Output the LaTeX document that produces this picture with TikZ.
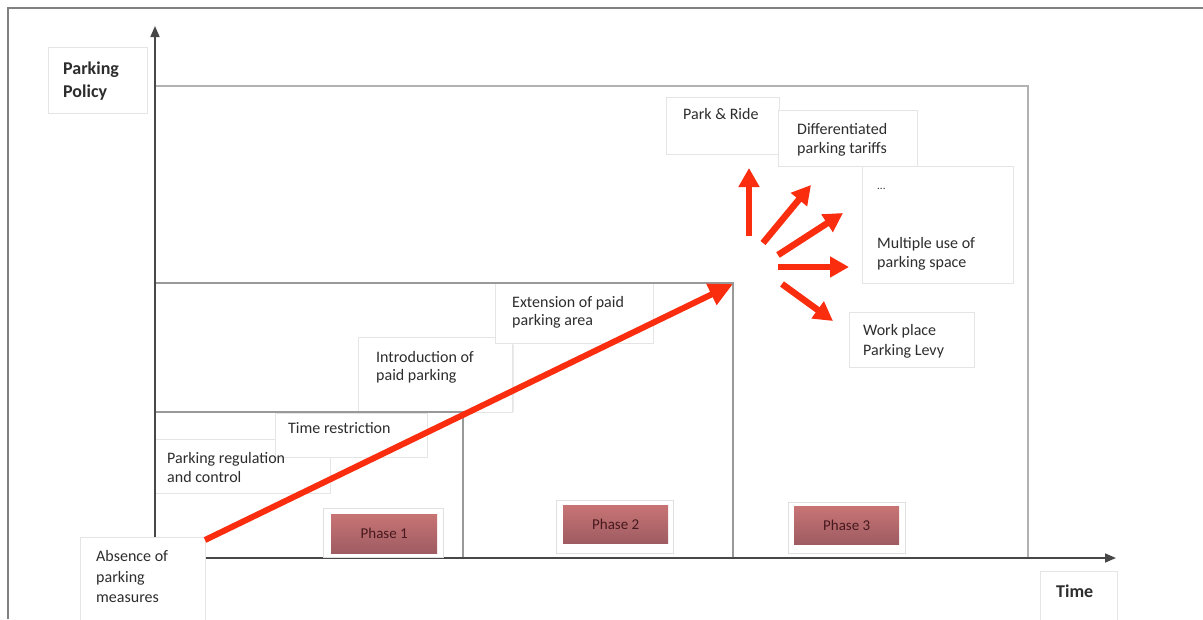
\documentclass[tikz,border=0pt]{standalone}
\usepackage{fontspec}
\setmainfont{Carlito}
\usetikzlibrary{arrows.meta}
\definecolor{redarr}{RGB}{250,45,15}
\definecolor{phtop}{RGB}{200,116,116}
\definecolor{phbot}{RGB}{158,92,98}
\definecolor{phtxt}{RGB}{70,25,30}
\definecolor{txtc}{RGB}{45,45,45}
\begin{document}
\begin{tikzpicture}[x=1pt,y=-1pt,
  frame/.style={draw=black!50,line width=1.5pt},
  rectl/.style={draw=black!30,line width=1.6pt},
  rectm/.style={draw=black!40,line width=1.4pt},
  axisl/.style={draw=black!72,line width=1.6pt,-{Triangle[length=11pt,width=9pt]}},
  tbox/.style={draw=black!10,fill=white,line width=0.8pt,inner sep=0pt,anchor=north west},
  txt/.style={font=\fontsize{16}{19}\selectfont,text=txtc,inner sep=0pt,anchor=base west},
  btxt/.style={font=\bfseries\fontsize{18}{22}\selectfont,text=txtc,inner sep=0pt,anchor=base west},
  phout/.style={draw=black!12,fill=white,line width=0.8pt,inner sep=0pt,anchor=north west},
  phin/.style={top color=phtop,bottom color=phbot,inner sep=0pt,anchor=north west,font=\fontsize{15}{18}\selectfont,text=phtxt},
  redarrow/.style={draw=redarr,line width=6pt,-{Triangle[length=24pt,width=22pt]}},
  fanarrow/.style={draw=redarr,line width=6.5pt,-{Triangle[length=19pt,width=20pt]}},
]
\useasboundingbox (0,0) rectangle (1203,619);
\fill[white] (0,0) rectangle (1203,619);

% outer frame
\draw[frame] (8,619) -- (8,8) -- (1203,8);

% text boxes
\node[tbox,minimum width=99pt,minimum height=66pt] (ppbox) at (48,47) {};
\node[tbox,minimum width=175pt,minimum height=54pt] (regbox) at (155,439) {};
\node[tbox,minimum width=152pt,minimum height=44pt] (timrbox) at (275,413) {};
\node[tbox,minimum width=154pt,minimum height=75pt] (intbox) at (358,337) {};
\node[tbox,minimum width=158pt,minimum height=60pt] (extbox) at (495,283) {};
\draw[draw=black!8,line width=0.8pt] (513,345) -- (513,412);
\node[tbox,minimum width=113pt,minimum height=57pt] (parbox) at (666,97) {};
\node[tbox,minimum width=139pt,minimum height=56pt] (difbox) at (778,110) {};
\node[tbox,minimum width=151pt,minimum height=117pt] (multbox) at (862,166) {};
\node[tbox,minimum width=125pt,minimum height=55pt] (workbox) at (849,312) {};
\node[tbox,minimum width=77pt,minimum height=60pt] (timebox) at (1040,571) {};

% phase rectangles
\draw[rectl] (155,86) rectangle (1028,558);
\draw[rectm] (155,283) rectangle (733,558);
\draw[rectm] (155,412) rectangle (463,558);

% axes
\coordinate (O) at (155,558);
\coordinate (ytip) at (155,26);
\coordinate (xtip) at (1116,558);
\draw[axisl] (O) -- (ytip);
\draw[axisl] (O) -- (xtip);

% absence box over the axes
\node[tbox,minimum width=125pt,minimum height=90pt] (absbox) at (80,537) {};

% texts
\node[btxt] (pp1) at (63,74) {Parking};
\node[btxt] (pp2) at (63,97) {Policy};
\node[btxt] (tim) at (1056,597) {Time};
\node[txt] (ab1) at (96,561) {Absence of};
\node[txt] (ab2) at (96,582) {parking};
\node[txt] (ab3) at (96,602) {measures};
\node[txt] (rg1) at (167,463) {Parking regulation};
\node[txt] (rg2) at (167,482) {and control};
\node[txt] (tr1) at (288,433) {Time restriction};
\node[txt] (in1) at (376,362) {Introduction of};
\node[txt] (in2) at (376,380) {paid parking};
\node[txt] (ex1) at (512,307) {Extension of paid};
\node[txt] (ex2) at (512,325) {parking area};
\node[txt] (pr1) at (683,119) {Park \& Ride};
\node[txt] (df1) at (797,134) {Differentiated};
\node[txt] (df2) at (797,153) {parking tariffs};
\node[txt,font=\fontsize{11}{13}\selectfont] (dots) at (877,189) {...};
\node[txt] (mu1) at (877,248) {Multiple use of};
\node[txt] (mu2) at (877,267) {parking space};
\node[txt] (wp1) at (863,335) {Work place};
\node[txt] (wp2) at (863,355) {Parking Levy};

% phase labels
\node[phout,minimum width=120pt,minimum height=49pt] (p1out) at (323,508) {};
\node[phin,minimum width=106pt,minimum height=39pt] (p1in) at (331,514) {Phase 1};
\node[phout,minimum width=117pt,minimum height=53pt] (p2out) at (556,500) {};
\node[phin,minimum width=105pt,minimum height=38pt] (p2in) at (563,505) {Phase 2};
\node[phout,minimum width=117pt,minimum height=51pt] (p3out) at (788,502) {};
\node[phin,minimum width=105pt,minimum height=38pt] (p3in) at (794,506) {Phase 3};

% main red arrow
\coordinate (a0) at (205,540);
\coordinate (a1) at (733,284);
\draw[redarrow] (a0) -- (a1);

% fan arrows
\coordinate (f1s) at (749,236); \coordinate (f1e) at (749,168);
\coordinate (f2s) at (763,243); \coordinate (f2e) at (811,185);
\coordinate (f3s) at (778,255); \coordinate (f3e) at (843,213);
\coordinate (f4s) at (778,267); \coordinate (f4e) at (849,267);
\coordinate (f5s) at (782,284); \coordinate (f5e) at (833,321);
\draw[fanarrow] (f1s) -- (f1e);
\draw[fanarrow] (f2s) -- (f2e);
\draw[fanarrow] (f3s) -- (f3e);
\draw[fanarrow] (f4s) -- (f4e);
\draw[fanarrow] (f5s) -- (f5e);
\end{tikzpicture}
\end{document}
